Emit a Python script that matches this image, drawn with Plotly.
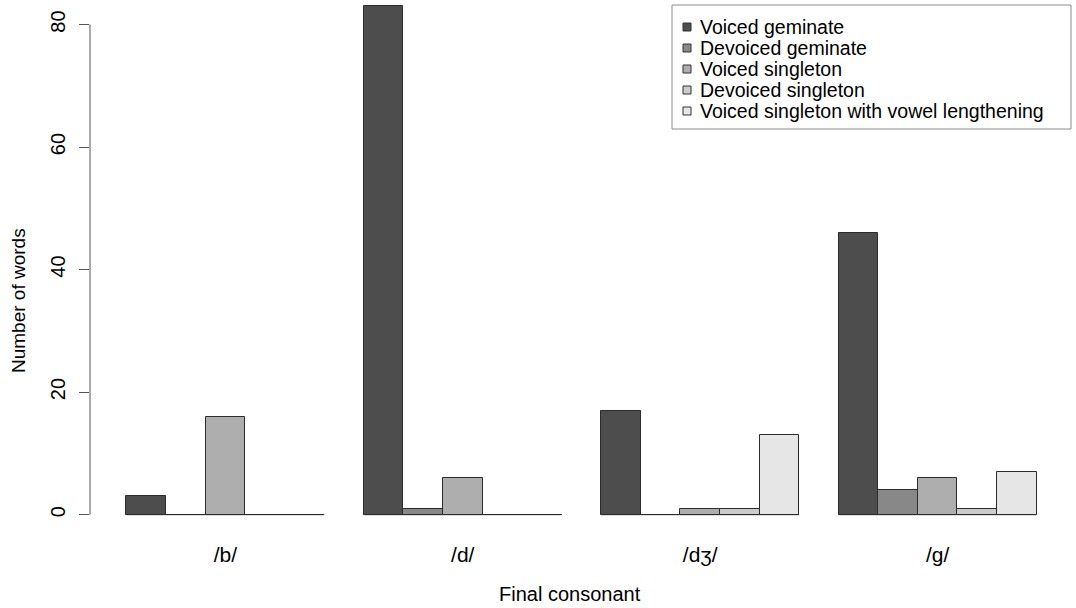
import plotly.graph_objects as go

# Counts of words by final consonant and realisation type
consonants = ["/b/", "/d/", "/dʒ/", "/g/"]
series_names = [
    "Voiced geminate",
    "Devoiced geminate",
    "Voiced singleton",
    "Devoiced singleton",
    "Voiced singleton with vowel lengthening",
]
voiced_geminate = [3, 83, 17, 46]
devoiced_geminate = [0, 1, 0, 4]
voiced_singleton = [16, 6, 1, 6]
devoiced_singleton = [0, 0, 1, 1]
voiced_singleton_vl = [0, 0, 13, 7]

series_values = [
    voiced_geminate,
    devoiced_geminate,
    voiced_singleton,
    devoiced_singleton,
    voiced_singleton_vl,
]
fills = ["#4D4D4D", "#888888", "#AEAEAE", "#CCCCCC", "#E6E6E6"]
y_ticks = [0, 20, 40, 60, 80]

FONT = "Liberation Sans, Arial, Helvetica, sans-serif"
EDGE = "#2b2b2b"
W, H = 1076, 608
M_L, M_R, M_T, M_B = 90, 3, 0, 73
PLOT_W, PLOT_H = W - M_L - M_R, H - M_T - M_B

n_series = len(series_names)
group_step = n_series + 1  # one bar-width gap between groups


def bar_center(g, s):
    return 1 + group_step * g + s + 0.5


def px_to_paper_x(px):
    return (px - M_L) / PLOT_W


def px_to_paper_y(py):
    return (H - M_B - py) / PLOT_H


fig = go.Figure()

for s, (name, vals, col) in enumerate(zip(series_names, series_values, fills)):
    fig.add_trace(go.Bar(
        x=[bar_center(g, s) for g in range(len(consonants))],
        y=vals,
        width=1.0,
        name=name,
        marker=dict(color=col, line=dict(color=EDGE, width=1)),
        showlegend=False,
    ))

# zero-height bars are drawn as a flat outline along the base of each group
for g in range(len(consonants)):
    left = bar_center(g, 0) - 0.5
    right = bar_center(g, n_series - 1) + 0.5
    fig.add_trace(go.Scatter(
        x=[left, right], y=[0, 0], mode="lines",
        line=dict(color=EDGE, width=1), showlegend=False, hoverinfo="skip",
    ))

group_centers = [(bar_center(g, 0) + bar_center(g, n_series - 1)) / 2
                 for g in range(len(consonants))]

# y axis line spans only the tick range
fig.add_shape(type="line", xref="paper", yref="y", x0=0, x1=0,
              y0=y_ticks[0], y1=y_ticks[-1], line=dict(color="#555555", width=1))

# axis titles
fig.add_annotation(text="Number of words", xref="paper", yref="paper",
                   x=px_to_paper_x(18), y=px_to_paper_y(301), showarrow=False,
                   textangle=-90, font=dict(family=FONT, size=19, color="black"),
                   xanchor="center", yanchor="middle")
fig.add_annotation(text="Final consonant", xref="paper", yref="paper",
                   x=px_to_paper_x(570), y=px_to_paper_y(594), showarrow=False,
                   font=dict(family=FONT, size=20, color="black"),
                   xanchor="center", yanchor="middle")

# boxed legend in the top-right corner
LEG_X0, LEG_X1, LEG_Y0, LEG_Y1 = 672, 1071, 5, 129
LINE0, LINE_STEP = 27, 21
fig.add_shape(type="rect", xref="paper", yref="paper",
              x0=px_to_paper_x(LEG_X0), x1=px_to_paper_x(LEG_X1),
              y0=px_to_paper_y(LEG_Y1), y1=px_to_paper_y(LEG_Y0),
              line=dict(color="#8c8c8c", width=1), fillcolor="white", layer="above")
for i, (name, col) in enumerate(zip(series_names, fills)):
    cy = LINE0 + i * LINE_STEP
    fig.add_shape(type="rect", xref="paper", yref="paper",
                  x0=px_to_paper_x(683), x1=px_to_paper_x(691),
                  y0=px_to_paper_y(cy + 4), y1=px_to_paper_y(cy - 4),
                  line=dict(color="#333333", width=1), fillcolor=col, layer="above")
    fig.add_annotation(text=name, xref="paper", yref="paper",
                       x=px_to_paper_x(698), y=px_to_paper_y(cy), showarrow=False,
                       font=dict(family=FONT, size=19.5, color="black"),
                       xanchor="left", yanchor="middle")

fig.update_layout(
    width=W, height=H,
    margin=dict(l=M_L, r=M_R, t=M_T, b=M_B),
    paper_bgcolor="white", plot_bgcolor="white",
    barmode="overlay",
    bargap=0,
    font=dict(family=FONT, size=20, color="black"),
    showlegend=False,
    xaxis=dict(
        range=[0.08, 24.92], showgrid=False, zeroline=False, showline=False,
        tickmode="array", tickvals=group_centers, ticktext=consonants,
        ticks="", ticklabelstandoff=5,
        tickfont=dict(family=FONT, size=21, color="black"),
    ),
    yaxis=dict(
        range=[-3.32, 84.0], showgrid=False, zeroline=False, showline=False,
        tickmode="array", tickvals=y_ticks, ticktext=[str(v) for v in y_ticks],
        ticks="outside", ticklen=10, tickcolor="#555555", tickwidth=1,
        tickangle=-90, ticklabelstandoff=6,
        tickfont=dict(family=FONT, size=20, color="black"),
    ),
)

fig.write_html("out.html")
